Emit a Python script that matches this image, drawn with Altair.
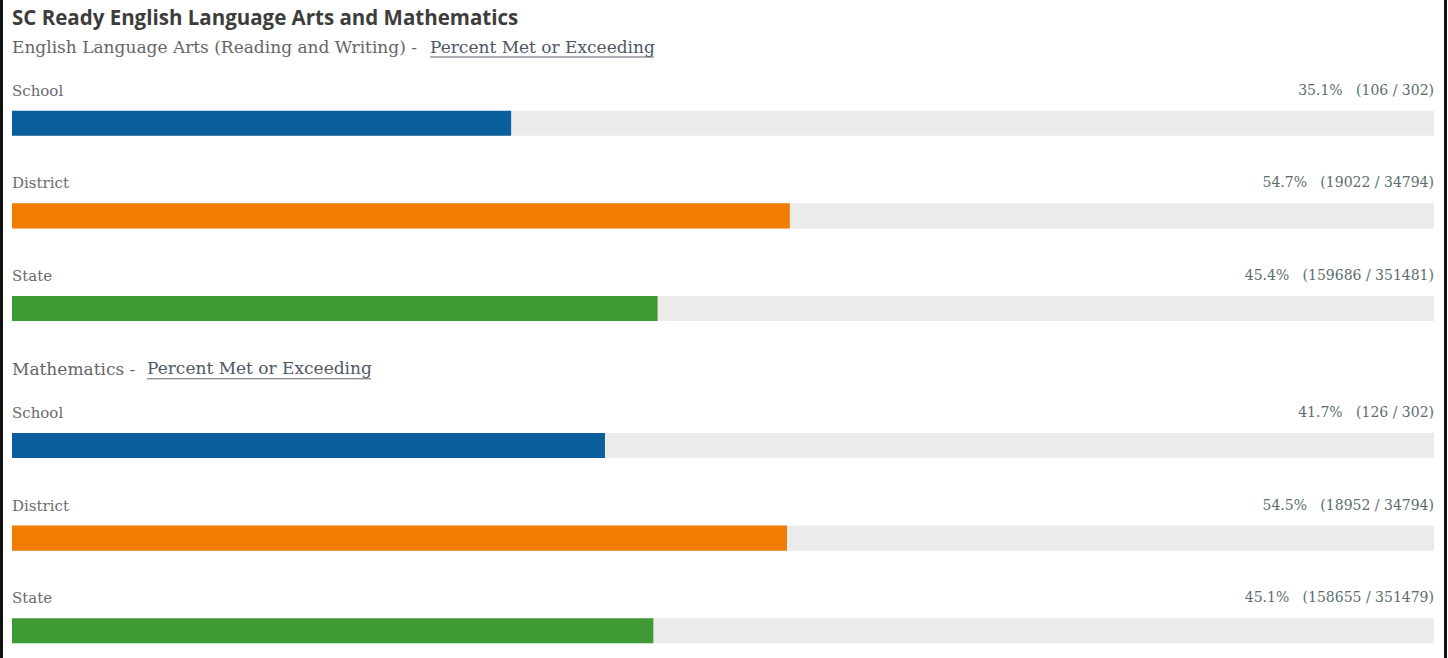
import altair as alt
import pandas as pd

# ---- data ----
subjects = ["ELA", "Math"]
subject_prefix = [
    "English Language Arts (Reading and Writing) -",
    "Mathematics -",
]
link_text = "Percent Met or Exceeding"
levels = ["School", "District", "State"]
ela_pct = [35.1, 54.7, 45.4]
ela_met = [106, 19022, 159686]
ela_total = [302, 34794, 351481]
math_pct = [41.7, 54.5, 45.1]
math_met = [126, 18952, 158655]
math_total = [302, 34794, 351479]
level_colors = ["#0b5e9c", "#f07d02", "#3e9a34"]
main_title = "SC Ready English Language Arts and Mathematics"

rows = []
for subj, p, m, t in [("ELA", ela_pct, ela_met, ela_total),
                      ("Math", math_pct, math_met, math_total)]:
    for lvl, pp, mm, tt in zip(levels, p, m, t):
        rows.append(dict(subject=subj, level=lvl, pct=pp, full=100,
                         label=f"{pp}%\u00a0\u00a0\u00a0({mm} / {tt})"))
df = pd.DataFrame(rows)
df_sub = pd.DataFrame({"subject": subjects, "title": subject_prefix})

SERIF = "DejaVu Serif"
SUB_SIZE = 17

xs = alt.Scale(domain=[0, 100], range=[12, 1434], nice=False, zero=True)
ys = alt.Scale(domain=subjects, range=[77, 677], paddingInner=0.138, paddingOuter=0)
yos = alt.Scale(domain=levels, paddingInner=0.7297, paddingOuter=0.365)

base = alt.Chart(df).encode(
    y=alt.Y("subject:N", scale=ys, axis=None),
    yOffset=alt.YOffset("level:N", scale=yos),
)

track = base.mark_bar(color="#ebebeb").encode(
    x=alt.X("full:Q", scale=xs, axis=None)
)
bars = base.mark_bar().encode(
    x=alt.X("pct:Q", scale=xs, axis=None),
    color=alt.Color("level:N", scale=alt.Scale(domain=levels, range=level_colors), legend=None),
)
row_labels = base.mark_text(align="left", baseline="middle", dy=-32.5,
                            font=SERIF, fontSize=15, color="#6a6a6a").encode(
    x=alt.value(12), text="level:N"
)
value_labels = base.mark_text(align="right", baseline="middle", dy=-32.5,
                              font=SERIF, fontSize=14, color="#5b6d6d").encode(
    x=alt.value(1434), text="label:N"
)

subtitles = alt.Chart(df_sub).mark_text(
    align="left", baseline="middle", dy=-29.5, font=SERIF, fontSize=SUB_SIZE, color="#666666"
).encode(
    y=alt.Y("subject:N", scale=ys, axis=None, bandPosition=0),
    x=alt.value(12),
    text="title:N",
)

title = alt.Chart(pd.DataFrame({"t": [main_title]})).mark_text(
    align="left", baseline="middle", font="Open Sans", fontWeight="bold",
    fontSize=20.5, color="#3d3d3d"
).encode(x=alt.value(12), y=alt.value(19), text="t:N")


def link(x0, x1, yc):
    d = pd.DataFrame({"t": [link_text]})
    txt = alt.Chart(d).mark_text(
        align="left", baseline="middle", font=SERIF, fontSize=SUB_SIZE, color="#4f5866"
    ).encode(x=alt.value(x0), y=alt.value(yc), text="t:N")
    ul = alt.Chart(d).mark_rule(color="#5a6270", strokeWidth=1).encode(
        x=alt.value(x0), x2=alt.value(x1), y=alt.value(yc + 9.5))
    return txt + ul


link_ela = link(430, 654, 47.5)
link_math = link(147, 371, 369.3)

border_left = alt.Chart(pd.DataFrame({"a": [0]})).mark_rule(color="#111111", strokeWidth=3).encode(
    x=alt.value(1.5), y=alt.value(0), y2=alt.value(658))
border_right = alt.Chart(pd.DataFrame({"a": [0]})).mark_rule(color="#111111", strokeWidth=3).encode(
    x=alt.value(1445.5), y=alt.value(0), y2=alt.value(658))

chart = alt.layer(
    track, bars, row_labels, value_labels, subtitles, title,
    link_ela, link_math, border_left, border_right
).properties(
    width=1448, height=658, padding=0,
    autosize=alt.AutoSizeParams(type="none"),
    background="white",
).configure_view(stroke=None)

chart.save("out.html", embed_options={"renderer": "svg", "actions": False})
